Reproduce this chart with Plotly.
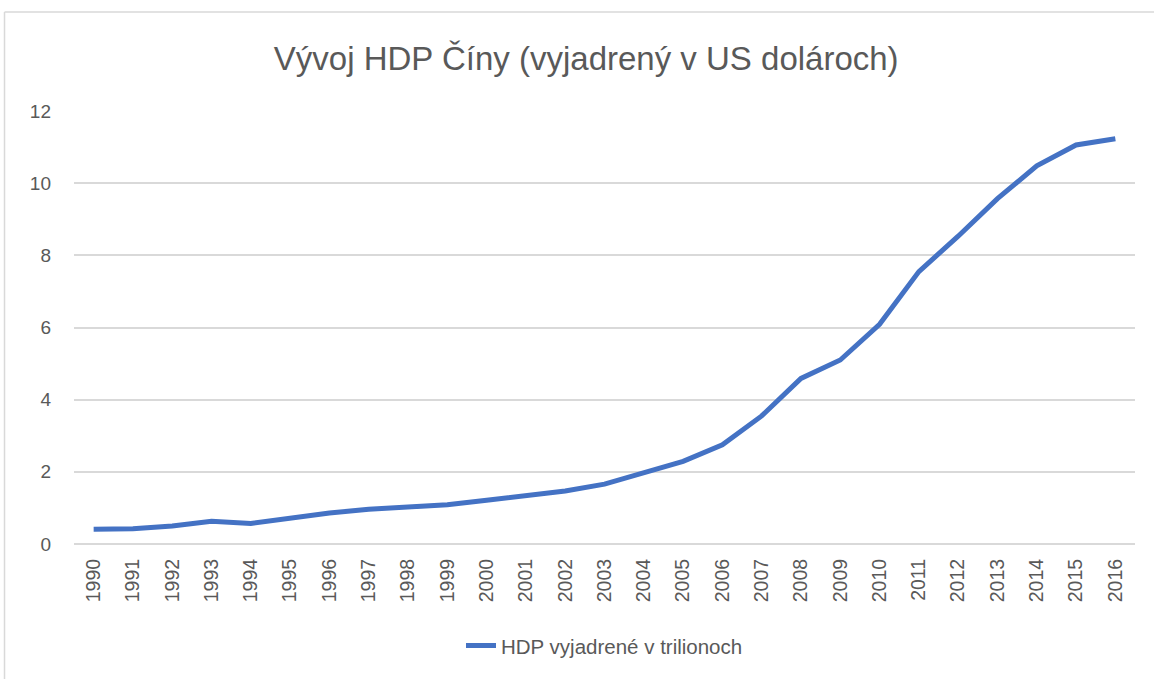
import plotly.graph_objects as go

years = [str(y) for y in range(1990, 2017)]
hdp = [0.41, 0.42, 0.50, 0.63, 0.57, 0.73, 0.86, 0.96, 1.03, 1.09,
       1.21, 1.34, 1.47, 1.66, 1.96, 2.29, 2.75, 3.55, 4.59, 5.10,
       6.09, 7.55, 8.53, 9.57, 10.48, 11.06, 11.23]
y_ticks = [0, 2, 4, 6, 8, 10, 12]

FONT = "Liberation Sans Narrow, Liberation Sans, Arial"
GREY = "#595959"

fig = go.Figure()
fig.add_trace(go.Scatter(
    x=years, y=hdp, mode="lines", name="HDP vyjadrené v trilionoch",
    line=dict(color="#4472C4", width=5),
))

fig.update_layout(
    width=1154, height=679,
    margin=dict(l=74, r=19, t=111, b=135),
    paper_bgcolor="white", plot_bgcolor="white",
    title=dict(text="Vývoj HDP Číny (vyjadrený v US dolároch)",
               x=0.508, xanchor="center", y=0.914, yanchor="middle",
               font=dict(family=FONT, size=33, color=GREY)),
    font=dict(family=FONT, color=GREY, size=18),
    showlegend=True,
    legend=dict(orientation="h", x=0.5, xanchor="center", y=-0.235, yanchor="middle",
                font=dict(family=FONT, size=20.5, color=GREY)),
    xaxis=dict(type="category", range=[-0.5, 26.5], tickangle=-90,
               showgrid=False, showline=False, ticks="", ticklabelstandoff=10,
               tickfont=dict(size=19.5, color=GREY)),
    yaxis=dict(range=[0, 12], tickvals=y_ticks, showgrid=True, gridcolor="#D9D9D9",
               gridwidth=1.5, zeroline=True, zerolinecolor="#D9D9D9", zerolinewidth=1.5,
               showline=False, ticks="", ticklabelstandoff=22,
               tickfont=dict(size=19, color=GREY)),
    shapes=[
        dict(type="line", xref="paper", yref="paper", x0=-0.0655, x1=-0.0655,
             y0=1.2286, y1=-0.32, line=dict(color="#D9D9D9", width=1.5)),
        dict(type="line", xref="paper", yref="paper", x0=-0.0655, x1=1.02,
             y0=1.2286, y1=1.2286, line=dict(color="#D9D9D9", width=1.5)),
    ],
)

fig.write_html("out.html", config={"displayModeBar": False},
               post_script="document.body.style.margin='0';")
